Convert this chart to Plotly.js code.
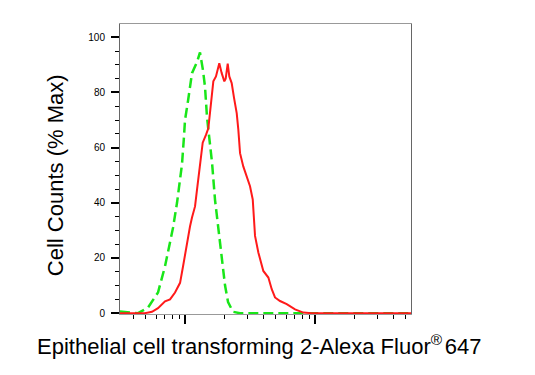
<!DOCTYPE html>
<html>
<head>
<meta charset="utf-8">
<script src="https://cdn.plot.ly/plotly-3.0.1.min.js"></script>
<style>html,body{margin:0;padding:0;background:#fff;}#chart{width:535px;height:375px;}</style>
</head>
<body>
<div id="chart"></div>
<script>
// Isotype control (green dashed)
var controlX = [316, 435, 519, 620, 702, 809, 868, 948, 982, 1000, 1055, 1132, 1237, 1304, 1375, 1425, 1476, 1530, 1614, 1702, 1794, 1927, 2032, 2143, 2340, 2650, 7670, 54700];
var controlY = [0.6, 0, 2, 7.5, 17, 31, 40, 54, 64, 70, 77, 87, 91, 94.5, 88, 82, 71, 64, 54.5, 41, 31.5, 19.5, 10, 4, 0.5, 0, 0, 0];
// Sample (red solid)
var sampleX = [316, 492, 557, 620, 702, 767, 838, 916, 966, 1036, 1093, 1132, 1194, 1237, 1304, 1368, 1452, 1511, 1556, 1603, 1651, 1730, 1835, 1915, 2006, 2055, 2130, 2191, 2285, 2382, 2498, 2570, 2650, 2806, 2983, 3162, 3318, 3455, 3664, 4002, 4375, 4645, 4922, 5380, 6058, 7019, 8128, 9438, 54700];
var sampleY = [0, 0, 0.5, 1.8, 4.3, 5, 7.5, 11, 17, 25.6, 31.5, 34.7, 38.7, 44.8, 54, 61.8, 64.7, 67, 72.6, 78.5, 84, 85.8, 90.6, 87, 84, 85, 90.4, 85.8, 83.4, 78, 72.5, 66.5, 58, 53.2, 49.6, 46, 41.2, 28, 22, 15.3, 12.9, 8.7, 5.7, 4.4, 3.3, 1.4, 0.2, 0, 0];
var yTickVals = [0, 20, 40, 60, 80, 100];
var yTickText = ['0', '20', '40', '60', '80', '100'];
var xDecades = [100, 1000, 10000];
var xTitle = 'Epithelial cell transforming 2-Alexa Fluor<sup>®</sup><span style="font-size:10px"> </span>647';
var yTitle = 'Cell Counts (% Max)';

var yMinor = [];
for (var v = 0; v <= 105; v += 5) { if (v % 20 !== 0) yMinor.push(v); }
var xMinor = [];
for (var d = 0; d < xDecades.length; d++) {
  for (var m = 2; m <= 9; m++) xMinor.push(xDecades[d] * m);
}

var traces = [
  {x: controlX, y: controlY, type: 'scatter', mode: 'lines',
   line: {color: '#19e619', width: 2.5, dash: '10px,5px'}, hoverinfo: 'none'},
  {x: sampleX, y: sampleY, type: 'scatter', mode: 'lines',
   line: {color: '#ff1a1a', width: 2}, hoverinfo: 'none'}
];

var layout = {
  width: 535, height: 375,
  margin: {l: 120, r: 124, t: 24, b: 61},
  paper_bgcolor: '#fff', plot_bgcolor: '#fff',
  showlegend: false,
  font: {family: 'Liberation Sans, Arial, sans-serif', color: '#000'},
  xaxis: {
    type: 'log', range: [2.5, 4.738],
    tickmode: 'array', tickvals: xDecades, showticklabels: false,
    ticks: 'outside', ticklen: 9, tickwidth: 2, tickcolor: '#000',
    minor: {tickmode: 'array', tickvals: xMinor, ticks: 'outside', ticklen: 4, tickwidth: 1, tickcolor: '#000', showgrid: false},
    showgrid: false, zeroline: false,
    showline: true, linecolor: '#999', linewidth: 1, mirror: true
  },
  yaxis: {
    range: [-0.3, 104.8],
    tickmode: 'array', tickvals: yTickVals, ticktext: yTickText,
    ticks: 'outside', ticklen: 8, tickwidth: 2, tickcolor: '#000',
    minor: {tickmode: 'array', tickvals: yMinor, ticks: 'outside', ticklen: 4, tickwidth: 1, tickcolor: '#000', showgrid: false},
    tickfont: {size: 10, color: '#000'},
    ticklabelstandoff: 4,
    showgrid: false, zeroline: false,
    showline: true, linecolor: '#666', linewidth: 1, mirror: true
  },
  annotations: [
    {text: xTitle, xref: 'paper', yref: 'paper', x: 0.479, y: -0.108, xanchor: 'center', yanchor: 'middle',
     showarrow: false, font: {size: 22, color: '#000'}},
    {text: yTitle, xref: 'paper', yref: 'paper', x: -0.223, y: 0.479, xanchor: 'center', yanchor: 'middle',
     textangle: -90, showarrow: false, font: {size: 22, color: '#000'}}
  ]
};

Plotly.newPlot('chart', traces, layout, {staticPlot: true, displayModeBar: false});
</script>
</body>
</html>
